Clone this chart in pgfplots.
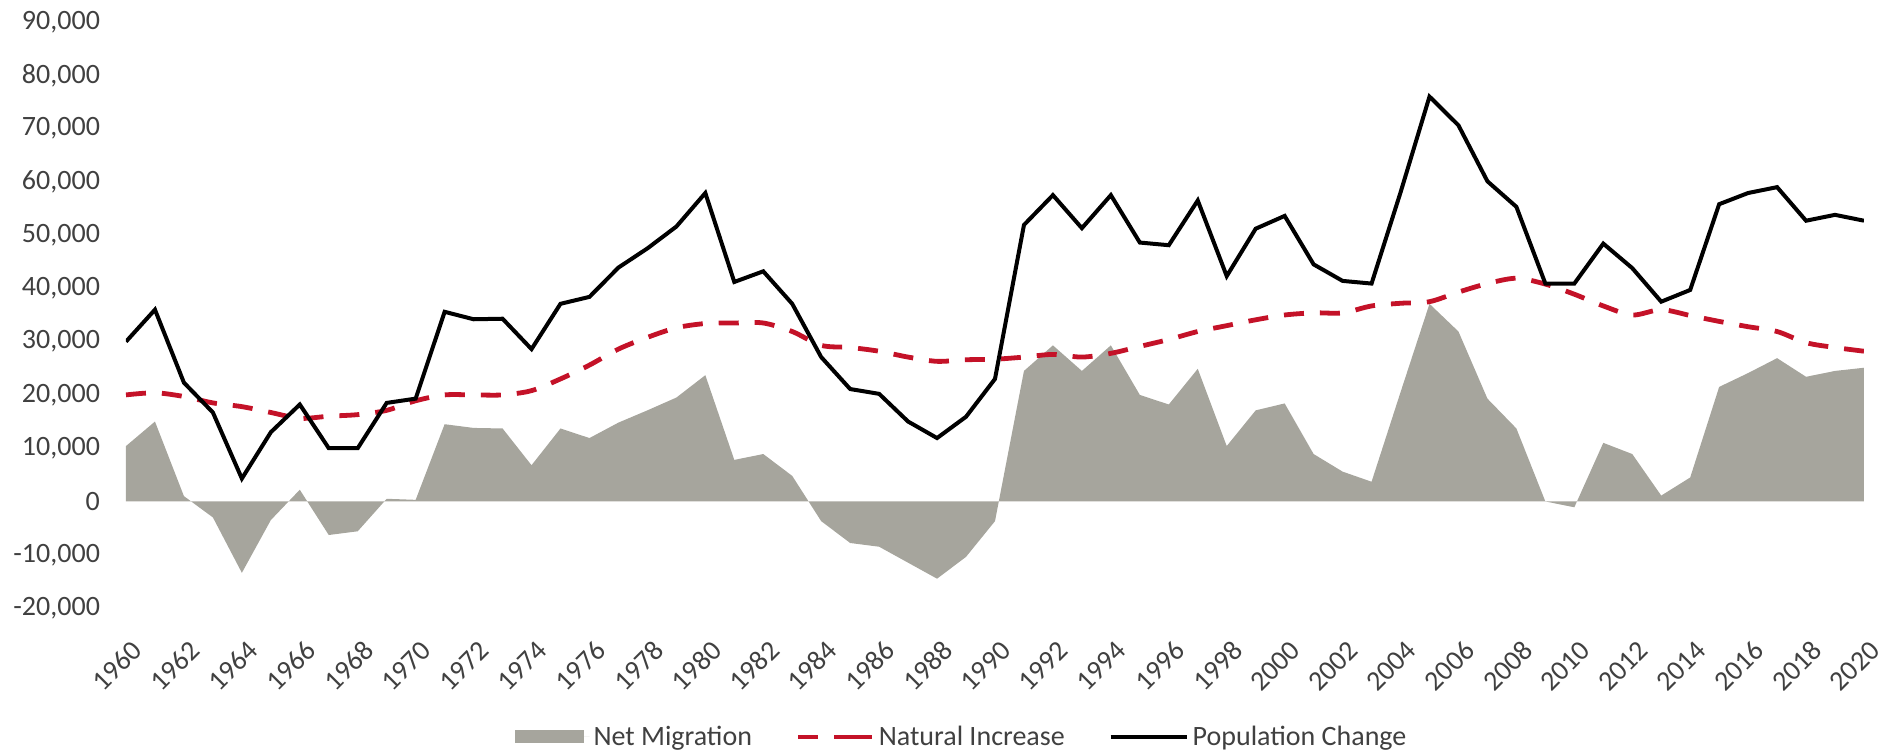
\documentclass[border=0pt]{standalone}
\usepackage{fontspec}
\setmainfont{Carlito}
\usepackage{pgfplots}
\usepackage{pgfplotstable}
\pgfplotsset{compat=1.18}
\definecolor{areagray}{RGB}{166,165,157}
\definecolor{natred}{RGB}{196,18,40}
\definecolor{txtgray}{RGB}{64,64,64}
\pgfplotstableread{
year mig nat pop
1960 10400 20000 30000
1961 15000 20400 36000
1962 1000 19700 22300
1963 -3000 18500 16700
1964 -13400 17800 4300
1965 -3500 16700 13000
1966 2200 15600 18200
1967 -6300 16000 10000
1968 -5600 16300 10000
1969 500 17100 18500
1970 300 18900 19300
1971 14500 20000 35600
1972 13800 20000 34200
1973 13700 20000 34300
1974 6800 20800 28600
1975 13700 23000 37100
1976 11900 25600 38400
1977 14800 28600 43900
1978 17100 30800 47500
1979 19500 32600 51600
1980 23700 33400 57900
1981 7800 33500 41200
1982 8900 33500 43200
1983 4800 31900 37100
1984 -3700 29300 27100
1985 -7800 28900 21100
1986 -8500 28200 20200
1987 -11500 27100 15000
1988 -14500 26300 11900
1989 -10400 26600 15900
1990 -3700 26700 23000
1991 24500 27100 51900
1992 29300 27600 57500
1993 24500 27100 51300
1994 29300 27800 57500
1995 20000 29100 48600
1996 18200 30400 48100
1997 24900 31900 56500
1998 10400 33000 42300
1999 17100 34100 51200
2000 18400 35000 53600
2001 8900 35400 44500
2002 5600 35400 41400
2003 3700 36700 40900
2004 20500 37200 58000
2005 37100 37500 76000
2006 31900 39300 70600
2007 19300 40900 60100
2008 13700 41900 55300
2009 0 40800 40900
2010 -1100 38900 40900
2011 11000 36700 48400
2012 8900 35000 43800
2013 1100 36000 37500
2014 4500 34900 39700
2015 21500 33800 55800
2016 24100 32800 57900
2017 26900 31900 59000
2018 23400 29800 52700
2019 24500 28900 53800
2020 25100 28200 52700
}\datatable
\begin{document}
\begin{tikzpicture}
\path[use as bounding box] (-63pt,-73pt) rectangle (880pt,304pt);
\begin{axis}[
  scale only axis,
  width=869pt, height=293pt,
  xmin=1960, xmax=2020, ymin=-20000, ymax=90000,
  enlargelimits=false,
  axis line style={draw=none},
  tick style={draw=none},
  major tick length=0pt,
  font=\fontsize{14}{16}\selectfont,
  xtick={1960,1962,...,2020},
  ytick={-20000,-10000,...,90000},
  scaled y ticks=false,
  /pgf/number format/assume math mode=true,
  yticklabel style={text=txtgray, /pgf/number format/fixed, /pgf/number format/1000 sep={,}, xshift=-9.5pt},
  xticklabel style={text=txtgray, rotate=45, anchor=north east, /pgf/number format/1000 sep={}, yshift=-9pt, xshift=-6pt},
  legend columns=3,
  legend style={at={(0.4813,-0.22)}, anchor=center, draw=none, fill=none,
    font=\fontsize{14}{16}\selectfont, text=txtgray,
    /tikz/every odd column/.append style={column sep=0pt},
    /tikz/every even column/.append style={column sep=20pt}},
  legend cell align=left,
]
\addplot[fill=areagray, draw=none,
  legend image code/.code={\fill[areagray] (0pt,-3.25pt) rectangle (34.5pt,3.25pt);\path (34.5pt,0pt) -- (37.5pt,0pt);}]
  table[x=year, y=mig] {\datatable} \closedcycle;
\addlegendentry{Net Migration}
\addplot[natred, line width=2.4pt, dash pattern=on 10pt off 8pt, smooth,
  legend image code/.code={\draw[natred, line width=2.4pt, dash pattern=on 10pt off 8pt] (0pt,0pt) -- (28pt,0pt);\path (28pt,0pt) -- (37pt,0pt);}]
  table[x=year, y=nat] {\datatable};
\addlegendentry{Natural Increase}
\addplot[black, line width=2pt, sharp plot,
  legend image code/.code={\draw[black, line width=2pt] (0pt,0pt) -- (36pt,0pt);\path (36pt,0pt) -- (38pt,0pt);}]
  table[x=year, y=pop] {\datatable};
\addlegendentry{Population Change}
\end{axis}
\end{tikzpicture}
\end{document}
